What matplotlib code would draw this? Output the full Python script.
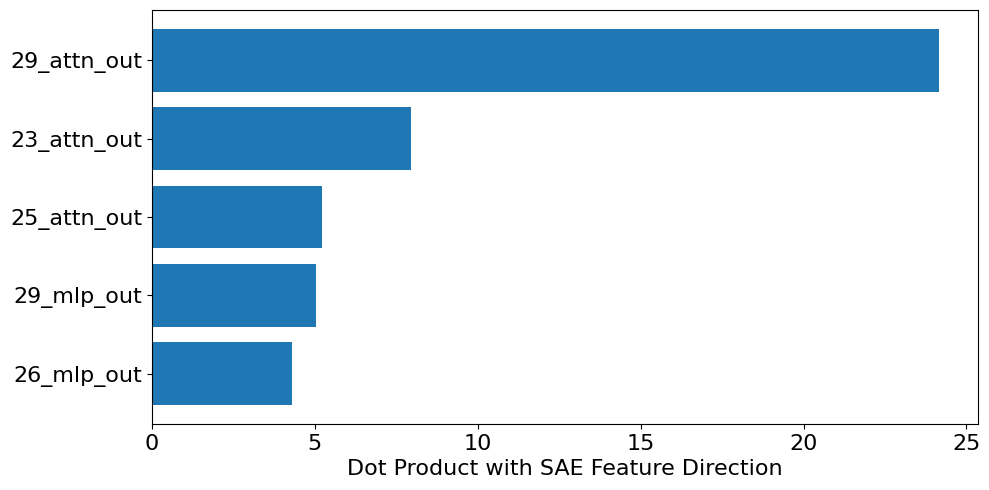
import matplotlib
matplotlib.use("Agg")
import matplotlib.pyplot as plt

components = ["29_attn_out", "23_attn_out", "25_attn_out", "29_mlp_out", "26_mlp_out"]
dot_products = [24.15, 7.94, 5.21, 5.04, 4.29]

plt.rc('font', size=16)
fig, ax = plt.subplots(figsize=(9.89, 4.90), dpi=100)
ax.barh(components, dot_products, color="#1f77b4")
ax.invert_yaxis()
ax.set_xlabel("Dot Product with SAE Feature Direction")
fig.subplots_adjust(left=0.1537, right=0.9889, top=0.9796, bottom=0.1347)
fig.savefig("out.png", dpi=100)
